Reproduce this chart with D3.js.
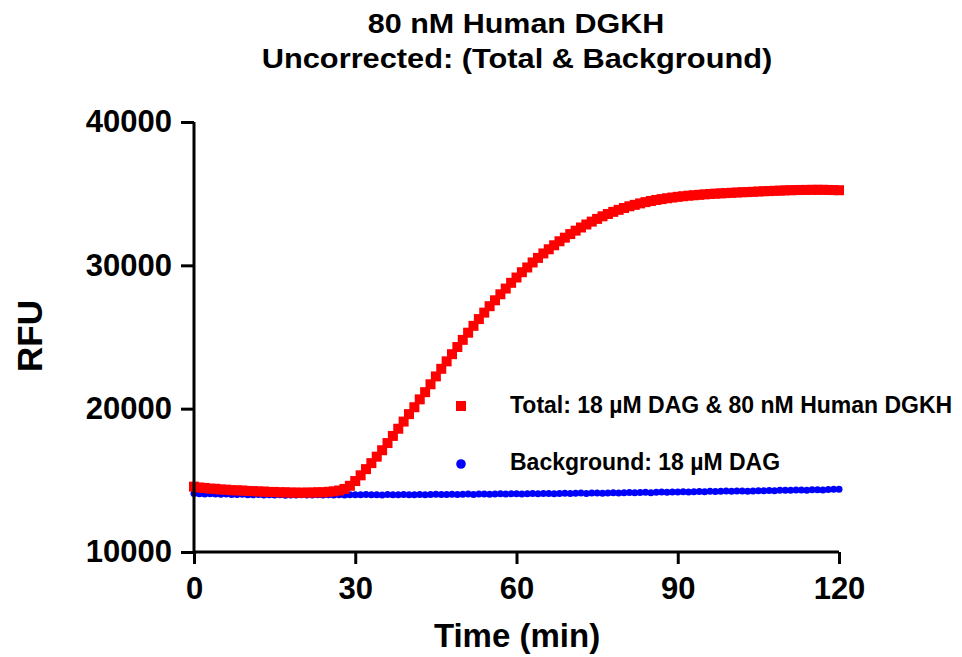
<!DOCTYPE html>
<html>
<head>
<meta charset="utf-8">
<script src="https://cdn.jsdelivr.net/npm/d3@7"></script>
<style>
  html, body { margin: 0; padding: 0; background: #fff; }
  svg { display: block; }
  text { font-family: "Liberation Sans", Arial, sans-serif; font-weight: bold; fill: #000; }
</style>
</head>
<body>
<svg id="chart" width="962" height="657"></svg>
<script>
// ---- data (one reading per minute) ----
const titleLines = ["80 nM Human DGKH", "Uncorrected: (Total & Background)"];
const xLabel = "Time (min)";
const yLabel = "RFU";
const xTicks = [0, 30, 60, 90, 120];
const yTicks = [10000, 20000, 30000, 40000];
const seriesNames = ["Total: 18 µM DAG & 80 nM Human DGKH", "Background: 18 µM DAG"];
const seriesColors = ["#ff0000", "#0000ff"];

const timeMin = d3.range(0, 121); // minutes 0..120

const totalRFU = [
  14560,14500,14470,14420,14410,14360,14350,14310,14300,14290,
  14260,14250,14220,14220,14190,14190,14160,14170,14140,14150,
  14130,14150,14140,14170,14160,14200,14230,14290,14400,14620,
  14950,15350,15780,16200,16650,17100,17600,18100,18600,19100,
  19620,20100,20650,21150,21700,22250,22780,23300,23800,24300,
  24800,25300,25780,26250,26700,27150,27560,27980,28380,28780,
  29150,29520,29850,30200,30520,30830,31120,31400,31680,31930,
  32180,32420,32640,32850,33050,33240,33420,33580,33730,33870,
  34000,34120,34220,34320,34410,34490,34560,34620,34680,34730,
  34780,34820,34860,34890,34920,34950,34980,35000,35020,35040,
  35060,35080,35100,35110,35130,35150,35170,35180,35200,35210,
  35230,35240,35250,35260,35260,35270,35270,35270,35260,35250,
  35240
];

const backgroundRFU = [
  14080,14060,14050,14070,14040,14030,14050,14020,14010,14030,
  14000,13990,14010,13980,13990,13970,13990,13960,13980,13970,
  13990,13970,13980,13990,13970,13990,13980,14000,13980,13990,
  14000,13990,14010,13990,14000,13980,14010,13990,14000,14010,
  13990,14000,14020,14000,14010,14030,14010,14020,14030,14010,
  14030,14040,14020,14040,14050,14030,14050,14060,14040,14060,
  14070,14050,14070,14080,14060,14080,14090,14070,14090,14100,
  14080,14100,14110,14090,14110,14120,14100,14120,14130,14120,
  14140,14150,14130,14150,14160,14140,14170,14180,14160,14180,
  14190,14200,14180,14200,14220,14210,14230,14220,14240,14250,
  14230,14250,14260,14240,14260,14280,14270,14290,14280,14300,
  14310,14300,14320,14330,14310,14340,14350,14330,14360,14370,
  14380
];

// ---- chart ----
const svg = d3.select("#chart");
const x = d3.scaleLinear().domain([0, 120]).range([194, 839]);
const y = d3.scaleLinear().domain([10000, 40000]).range([552, 122]);

// Title (glyphs in the reference are slightly wide, so stretch horizontally)
svg.append("text").attr("transform", "translate(516,33) scale(1.13,1)").attr("text-anchor", "middle")
  .style("font-size", "27px").text(titleLines[0]);
svg.append("text").attr("transform", "translate(517,68) scale(1.14,1)").attr("text-anchor", "middle")
  .style("font-size", "27px").text(titleLines[1]);

// Data: background (blue circles) then total (red squares)
const bgData = timeMin.map((t, i) => ({ t, v: backgroundRFU[i] }));
const totData = timeMin.map((t, i) => ({ t, v: totalRFU[i] }));

svg.append("g").selectAll("circle").data(bgData).join("circle")
  .attr("cx", d => x(d.t)).attr("cy", d => y(d.v)).attr("r", 3.5)
  .attr("fill", seriesColors[1]);

const sq = 10;
svg.append("g").selectAll("rect").data(totData).join("rect")
  .attr("x", d => x(d.t) - sq / 2).attr("y", d => y(d.v) - sq / 2)
  .attr("width", sq).attr("height", sq)
  .attr("fill", seriesColors[0]);

// Axes
const xAxis = d3.axisBottom(x).tickValues(xTicks).tickSize(12).tickPadding(13).tickFormat(d3.format("d"));
const yAxis = d3.axisLeft(y).tickValues(yTicks).tickSize(13).tickPadding(9).tickFormat(d3.format("d"));

const gx = svg.append("g").attr("transform", `translate(0,${y(10000)})`).call(xAxis);
const gy = svg.append("g").attr("transform", `translate(${x(0)},0)`).call(yAxis);

[gx, gy].forEach(g => {
  g.select(".domain").attr("stroke", "#000").attr("stroke-width", 3)
    .attr("d", g === gx ? `M${x(0)},0H${x(120)}` : `M0,${y(10000)}V${y(40000)}`);
  g.selectAll(".tick line").attr("stroke", "#000").attr("stroke-width", 3);
  g.selectAll(".tick text").style("font-size", "31px")
    .style("font-family", "'Liberation Sans', Arial, sans-serif").style("font-weight", "bold");
});

// Axis titles
svg.append("text").attr("x", 517).attr("y", 647).attr("text-anchor", "middle")
  .style("font-size", "33px").text(xLabel);
svg.append("text").attr("transform", `translate(42,336) rotate(-90)`).attr("text-anchor", "middle")
  .style("font-size", "35px").text(yLabel);

// Legend
const legend = svg.append("g");
legend.append("rect").attr("x", 456).attr("y", 401).attr("width", 10).attr("height", 10).attr("fill", seriesColors[0]);
legend.append("text").attr("x", 510).attr("y", 413).style("font-size", "23px").text(seriesNames[0]);
legend.append("circle").attr("cx", 461).attr("cy", 464).attr("r", 4.8).attr("fill", seriesColors[1]);
legend.append("text").attr("x", 510).attr("y", 470).style("font-size", "23px").text(seriesNames[1]);
</script>
</body>
</html>
